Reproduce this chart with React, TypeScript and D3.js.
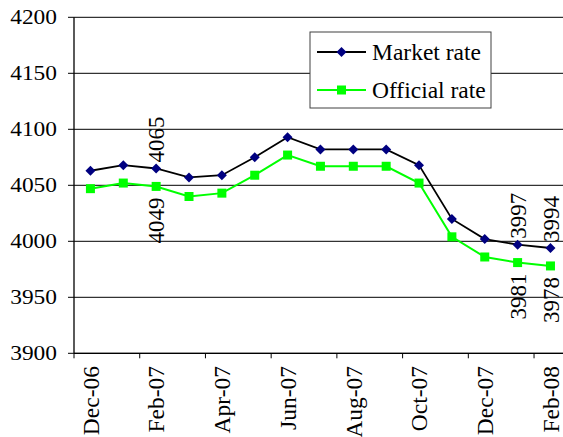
import * as d3 from 'd3';

const months = [
  'Dec-06', 'Jan-07', 'Feb-07', 'Mar-07', 'Apr-07', 'May-07', 'Jun-07', 'Jul-07',
  'Aug-07', 'Sep-07', 'Oct-07', 'Nov-07', 'Dec-07', 'Jan-08', 'Feb-08',
];
const marketRate = [4063, 4068, 4065, 4057, 4059, 4075, 4093, 4082, 4082, 4082, 4068, 4020, 4002, 3997, 3994];
const officialRate = [4047, 4052, 4049, 4040, 4043, 4059, 4077, 4067, 4067, 4067, 4052, 4004, 3986, 3981, 3978];
const yTicks = [3900, 3950, 4000, 4050, 4100, 4150, 4200];
const labelled = ['Feb-07', 'Jan-08', 'Feb-08'];

const width = 563;
const height = 437;
const margin = { top: 17.3, left: 74, bottom: 353.3 };
const font = "'Liberation Serif', 'DejaVu Serif', serif";

export default function App() {
  // plot runs past the right edge of the picture, as in the original
  const x = d3.scaleBand().domain(months).range([margin.left, margin.left + 15 * 32.86]);
  const y = d3.scaleLinear().domain([3900, 4200]).range([margin.bottom, margin.top]);
  const cx = (m: string) => x(m)! + x.bandwidth() / 2;

  const line = d3
    .line<number>()
    .x((_, i) => cx(months[i]))
    .y((d) => y(d));

  const diamond = (px: number, py: number, r = 5) =>
    `M${px},${py - r}L${px + r},${py}L${px},${py + r}L${px - r},${py}Z`;

  const right = x.range()[1];

  return (
    <svg
      width={width}
      height={height}
      style={{ position: 'absolute', left: 0, top: 0, background: '#fff', fontFamily: font }}
    >
      {/* gridlines */}
      {yTicks.map((t) => (
        <g key={t}>
          <line x1={68} x2={right} y1={y(t)} y2={y(t)} stroke="#000" strokeWidth={1} />
          <text
            x={57}
            y={y(t)}
            dy="0.35em"
            textAnchor="end"
            fontSize={20}
            transform={`translate(57,0) scale(1.17,1) translate(-57,0)`}
            fill="#000"
            style={{ fontFamily: font }}
          >
            {t}
          </text>
        </g>
      ))}

      {/* axes */}
      <line x1={margin.left} x2={margin.left} y1={margin.top} y2={margin.bottom} stroke="#000" strokeWidth={1.3} />
      <line x1={margin.left} x2={right} y1={margin.bottom} y2={margin.bottom} stroke="#000" strokeWidth={1.3} />
      {months.map((m, i) =>
        i % 2 === 0 ? (
          <g key={m}>
            <line x1={x(m)!} x2={x(m)!} y1={margin.bottom} y2={margin.bottom + 5} stroke="#000" />
            <text
              transform={`translate(${cx(m)},366) rotate(-90)`}
              dy="0.35em"
              textAnchor="end"
              fontSize={23.5}
              fill="#000"
              style={{ fontFamily: font }}
            >
              {m}
            </text>
          </g>
        ) : null
      )}

      {/* series */}
      <path d={line(officialRate)!} fill="none" stroke="#00ff00" strokeWidth={2} />
      <path d={line(marketRate)!} fill="none" stroke="#000" strokeWidth={1.8} />
      {officialRate.map((v, i) => (
        <rect key={'o' + i} x={cx(months[i]) - 4.5} y={y(v) - 4.5} width={9} height={9} fill="#00ff00" />
      ))}
      {marketRate.map((v, i) => (
        <path key={'m' + i} d={diamond(cx(months[i]), y(v))} fill="#000080" />
      ))}

      {/* data labels */}
      {labelled.map((m) => {
        const i = months.indexOf(m);
        return (
          <g key={m} fontSize={23} style={{ fontFamily: font }}>
            <text transform={`translate(${cx(m)},${y(marketRate[i]) - 6}) rotate(-90)`} dy="0.35em" textAnchor="start">
              {marketRate[i]}
            </text>
            <text transform={`translate(${cx(m)},${y(officialRate[i]) + 11}) rotate(-90)`} dy="0.35em" textAnchor="end">
              {officialRate[i]}
            </text>
          </g>
        );
      })}

      {/* legend */}
      <g style={{ fontFamily: font }}>
        <rect x={310} y={32} width={181} height={76} fill="#fff" stroke="#404040" strokeWidth={1} />
        <line x1={317} x2={366} y1={52} y2={52} stroke="#000" strokeWidth={1.8} />
        <path d={diamond(341.5, 52)} fill="#000080" />
        <text x={372} y={52} dy="0.35em" fontSize={23.5}>Market rate</text>
        <line x1={317} x2={366} y1={90} y2={90} stroke="#00ff00" strokeWidth={2} />
        <rect x={337} y={85.5} width={9} height={9} fill="#00ff00" />
        <text x={372} y={90} dy="0.35em" fontSize={23.5}>Official rate</text>
      </g>
    </svg>
  );
}
